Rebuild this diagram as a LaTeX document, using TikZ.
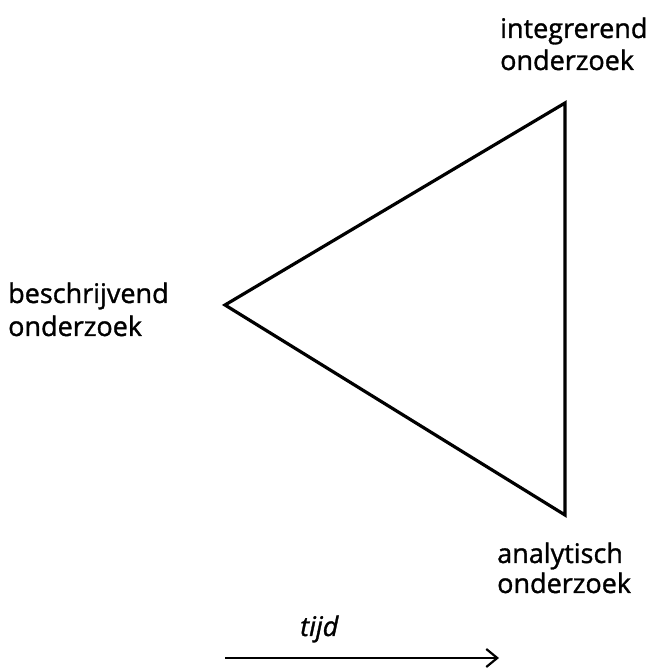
\documentclass[tikz,border=0pt]{standalone}
\usepackage{fontspec}
\setmainfont{Open Sans}[FakeBold=1.2]
\usetikzlibrary{arrows.meta}
\begin{document}
\begin{tikzpicture}[x=1pt,y=1pt,
  lbl/.style={anchor=base west,inner sep=0pt,font=\fontsize{27}{30}\selectfont},
  tri/.style={line width=3.2pt,line join=miter}]
\useasboundingbox (0,0) rectangle (672,669);
\coordinate (L) at (225,364);
\coordinate (T) at (565,566);
\coordinate (B) at (565,154);
\draw[tri] (L) -- (T) -- (B) -- cycle;
\node[lbl] (i1) at (500,631) {integrerend};
\node[lbl] (i2) at (500,599) {onderzoek};
\node[lbl] (b1) at (8,366) {beschrijvend};
\node[lbl] (b2) at (8,333) {onderzoek};
\node[lbl] (a1) at (497,106) {analytisch};
\node[lbl] (a2) at (497,76) {onderzoek};
\node[lbl,font=\fontsize{27}{30}\selectfont\itshape] (t) at (300,33) {tijd};
\coordinate (s) at (225,11);
\coordinate (e) at (499,11);
\draw[line width=1.8pt,-{Straight Barb[length=11pt,width=18pt,line width=2.2pt]}] (s) -- (e);
\end{tikzpicture}
\end{document}
